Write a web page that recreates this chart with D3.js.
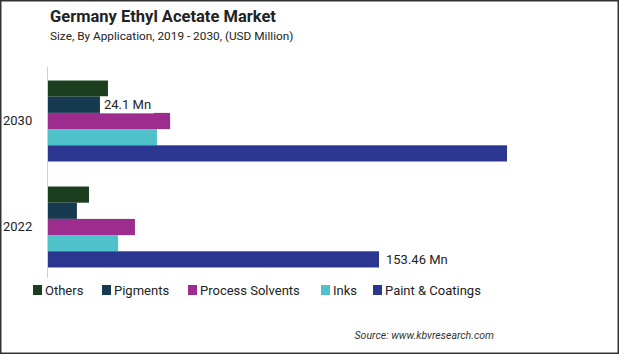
<!DOCTYPE html>
<html>
<head>
<meta charset="utf-8">
<script src="https://cdn.jsdelivr.net/npm/d3@7"></script>
<style>
html,body{margin:0;padding:0;background:#fff;}
svg{display:block;font-family:Roboto,"Noto Sans",sans-serif;}
</style>
</head>
<body>
<svg id="chart" width="619" height="354"></svg>
<script>
const years = ["2030", "2022"];
const seriesNames = ["Others", "Pigments", "Process Solvents", "Inks", "Paint & Coatings"];
const seriesColors = ["#1b3f1e", "#163b50", "#9c2c8e", "#4fc1cb", "#2b3691"];
const others = [27.8, 19.0];
const pigments = [24.1, 13.4];
const processSolvents = [56.6, 40.3];
const inks = [50.5, 32.5];
const paintCoatings = [212.8, 153.46];
const valueLabels = [{year: "2030", series: "Pigments", text: "24.1 Mn"}, {year: "2022", series: "Paint & Coatings", text: "153.46 Mn"}];

const seriesValues = [others, pigments, processSolvents, inks, paintCoatings];
const data = [];
years.forEach((y, i) => seriesNames.forEach((s, j) => data.push({year: y, series: s, value: seriesValues[j][i]})));

const svg = d3.select("#chart");
const W = 619, H = 354;

svg.append("rect").attr("x", 0.75).attr("y", 0.75).attr("width", W - 1.5).attr("height", H - 1.5)
  .attr("fill", "#fff").attr("stroke", "#333").attr("stroke-width", 1.5);

const x0 = 48;
const x = d3.scaleLinear().domain([0, 153.46]).range([x0, 379]);
const y = d3.scaleBand().domain(years).range([68, 280]).paddingInner(0.236).paddingOuter(0.118);
const ys = d3.scaleBand().domain(seriesNames).range([0, y.bandwidth()]);
const color = d3.scaleOrdinal().domain(seriesNames).range(seriesColors);

svg.append("text").attr("x", 50).attr("y", 22).attr("font-size", 16.5).attr("font-weight", "bold").attr("fill", "#222")
  .text("Germany Ethyl Acetate Market");
svg.append("text").attr("x", 50).attr("y", 40).attr("font-size", 11.8).attr("fill", "#222")
  .text("Size, By Application, 2019 - 2030, (USD Million)");

svg.append("g").selectAll("rect").data(data).join("rect")
  .attr("x", x0)
  .attr("y", d => y(d.year) + ys(d.series))
  .attr("width", d => x(d.value) - x0)
  .attr("height", ys.bandwidth())
  .attr("fill", d => color(d.series));

// axis line
svg.append("line").attr("x1", 47.5).attr("x2", 47.5).attr("y1", 67).attr("y2", 278)
  .attr("stroke", "#d0d0d0").attr("stroke-width", 1);

// year labels
svg.append("g").selectAll("text").data(years).join("text")
  .attr("x", 3).attr("y", d => y(d) + y.bandwidth() / 2 - 0.5).attr("dy", "0.35em")
  .attr("font-size", 13).attr("fill", "#222").text(d => d);

// value labels
valueLabels.forEach(l => {
  const d = data.find(e => e.year === l.year && e.series === l.series);
  const tx = x(d.value) + (l.series === "Pigments" ? 4 : 7);
  const ty = y(d.year) + ys(d.series) + ys.bandwidth() / 2;
  const g = svg.append("g");
  const t = g.append("text").attr("x", tx).attr("y", ty).attr("dy", "0.35em")
    .attr("font-size", 13).attr("fill", "#222").text(l.text);
  const bb = t.node().getBBox();
  g.insert("rect", "text").attr("x", x(d.value)).attr("y", bb.y - 1).attr("width", bb.width + 7).attr("height", bb.height + 2).attr("fill", "#fff");
});

// legend
const legendX = [33, 102, 188, 321, 373];
const lg = svg.append("g").selectAll("g").data(seriesNames).join("g")
  .attr("transform", (d, i) => `translate(${legendX[i]},290)`);
lg.append("rect").attr("x", 0).attr("y", -5).attr("width", 9).attr("height", 10).attr("fill", d => color(d));
lg.append("text").attr("x", 12).attr("y", 0).attr("dy", "0.35em").attr("font-size", 13).attr("fill", "#222").text(d => d);

svg.append("text").attr("x", 494).attr("y", 339).attr("text-anchor", "end").attr("font-size", 10.5)
  .attr("font-style", "italic").attr("fill", "#333").text("Source: www.kbvresearch.com");
</script>
</body>
</html>
